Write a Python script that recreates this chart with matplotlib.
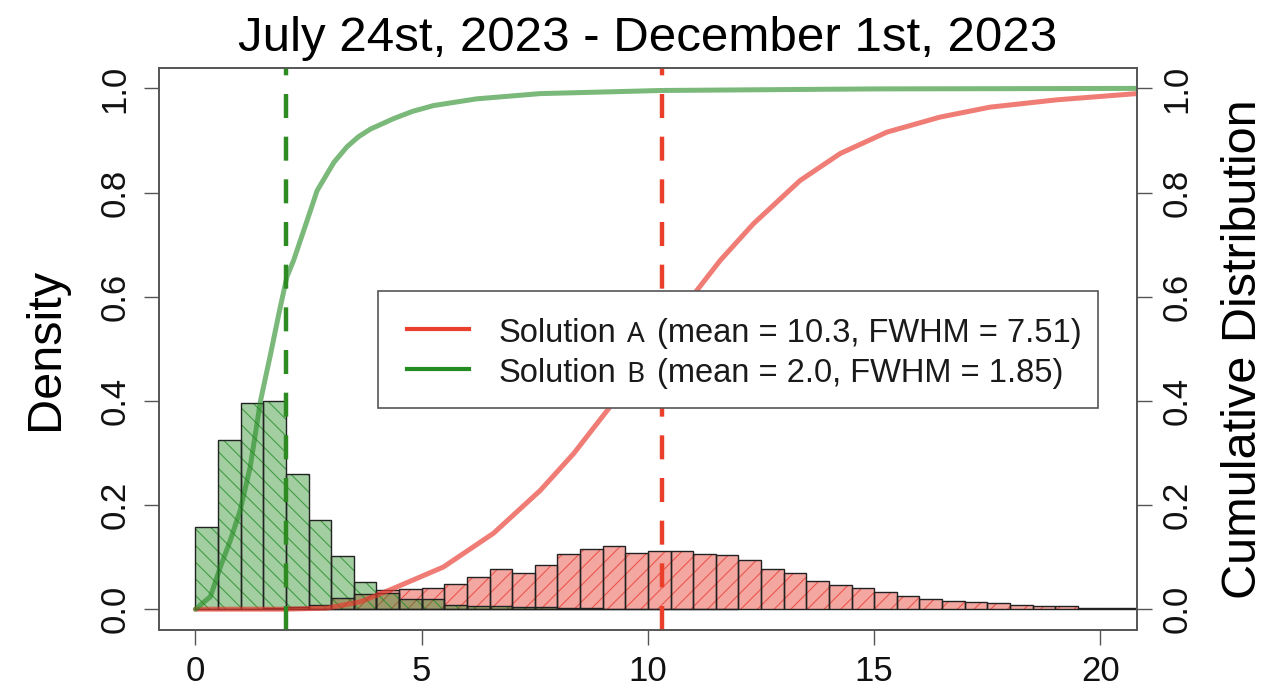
import matplotlib
matplotlib.use('Agg')
import matplotlib.pyplot as plt
import numpy as np
from matplotlib.colors import to_rgba
from matplotlib.patches import Rectangle
from matplotlib.lines import Line2D

plt.rcParams['font.family'] = ['Liberation Sans', 'DejaVu Sans']
plt.rcParams['hatch.linewidth'] = 0.8

# histogram densities, bins of 0.5 starting at 0
bin_width = 0.5
density_b = [0.158, 0.324, 0.395, 0.399, 0.260, 0.172, 0.103, 0.052, 0.032, 0.020,
             0.019, 0.008, 0.007, 0.006, 0.005, 0.004, 0.002, 0.002, 0.001, 0.001,
             0.001, 0.001, 0.0005, 0.0005]
density_a = [0.0, 0.0, 0.001, 0.002, 0.004, 0.008, 0.022, 0.030, 0.036, 0.038,
             0.041, 0.049, 0.061, 0.078, 0.070, 0.084, 0.105, 0.115, 0.121, 0.108,
             0.111, 0.111, 0.106, 0.104, 0.095, 0.078, 0.070, 0.054, 0.047, 0.040,
             0.033, 0.025, 0.019, 0.015, 0.013, 0.012, 0.008, 0.006, 0.006, 0.003,
             0.003, 0.002]

# cumulative distributions
cdf_a_x = [0, 2.0, 2.9, 3.64, 4.38, 5.48, 6.59, 7.62, 8.36, 9.13, 11.08, 11.6,
           12.33, 13.36, 14.25, 15.28, 16.46, 17.56, 19.03, 20.8]
cdf_a_y = [0, 0.0, 0.002, 0.014, 0.040, 0.081, 0.146, 0.228, 0.299, 0.385, 0.612,
           0.67, 0.740, 0.823, 0.875, 0.916, 0.945, 0.964, 0.978, 0.99]
cdf_b_x = [0, 0.33, 0.55, 0.77, 0.99, 1.21, 1.44, 1.66, 1.85, 2.02, 2.17, 2.47,
           2.69, 3.06, 3.35, 3.6, 3.87, 4.38, 4.8, 5.26, 6.22, 7.62, 10.3, 15.0, 20.8]
cdf_b_y = [0, 0.024, 0.081, 0.132, 0.19, 0.273, 0.401, 0.49, 0.57, 0.638, 0.67,
           0.747, 0.804, 0.858, 0.888, 0.907, 0.922, 0.942, 0.956, 0.967, 0.980,
           0.990, 0.996, 0.999, 1.0]

names = ['A', 'B']
means = [10.3, 2.0]
fwhm = [7.51, 1.85]

title = 'July 24st, 2023 - December 1st, 2023'
xticks = [0, 5, 10, 15, 20]
yticks = [0.0, 0.2, 0.4, 0.6, 0.8, 1.0]

red_fill = '#e83a30'
green_fill = '#228b22'
red_line = '#e8372c'
green_line = '#228b22'
red_dash = '#ea3f2a'
green_dash = '#2e8b22'
axis_col = '#555555'

fig = plt.figure(figsize=(12.71, 6.93), dpi=100)
ax = fig.add_axes([0.1253, 0.0909, 0.7690, 0.8116])

left_a = np.arange(len(density_a)) * bin_width
left_b = np.arange(len(density_b)) * bin_width

# filled + hatched bars, then black outlines on top
ax.bar(left_a, density_a, width=bin_width, align='edge',
       color=to_rgba(red_fill, 0.45), edgecolor=to_rgba(red_fill, 0.75),
       linewidth=0, hatch='//')
ax.bar(left_b, density_b, width=bin_width, align='edge',
       color=to_rgba(green_fill, 0.42), edgecolor=to_rgba(green_fill, 0.75),
       linewidth=0, hatch='\\\\')
ax.bar(left_a, density_a, width=bin_width, align='edge', fill=False,
       edgecolor='#222222', linewidth=1.0)
ax.bar(left_b, density_b, width=bin_width, align='edge', fill=False,
       edgecolor='#222222', linewidth=1.0)

ax.set_xlim(-0.8, 20.8)
ax.set_ylim(-0.04, 1.04)

ax2 = ax.twinx()
ax2.set_ylim(-0.04, 1.04)
ax2.plot(cdf_a_x, cdf_a_y, color=red_line, alpha=0.65, lw=3.6,
         solid_capstyle='round', solid_joinstyle='round')
ax2.plot(cdf_b_x, cdf_b_y, color=green_line, alpha=0.6, lw=3.6,
         solid_capstyle='round', solid_joinstyle='round')
ax2.axvline(means[0], color=red_dash, lw=3.2, dashes=(5.4, 4.2))
ax2.axvline(means[1], color=green_dash, lw=3.2, dashes=(5.4, 4.2))

# legend drawn by hand (the A / B letters use another font)
box = Rectangle((0.2241, 0.3942), 0.736, 0.2086, transform=ax2.transAxes,
                facecolor='white', edgecolor=axis_col, lw=1.2, zorder=5)
ax2.add_patch(box)
row_line_y = [0.5347, 0.4636]
row_text_y = [0.5126, 0.4415]
for i, col in enumerate([red_dash, green_line]):
    ax2.add_line(Line2D([0.2531, 0.3172], [row_line_y[i]] * 2, transform=ax2.transAxes,
                        color=col, lw=3, zorder=6))
    ax2.text(0.3468, row_text_y[i], 'Solution', transform=ax2.transAxes,
             fontsize=23.5, va='baseline', color='#1a1a1a', zorder=7)
    ax2.text(0.4782, row_text_y[i], names[i], transform=ax2.transAxes,
             fontsize=20, family='Noto Sans', va='baseline', color='#1a1a1a', zorder=7)
    ax2.text(0.5088, row_text_y[i], f'(mean = {means[i]:.1f}, FWHM = {fwhm[i]:.2f})',
             transform=ax2.transAxes, fontsize=23.5, va='baseline', color='#1a1a1a', zorder=7)

ylabels = [f'{v:.1f}' for v in yticks]
ax.set_xticks(xticks, [str(v) for v in xticks])
ax.set_yticks(yticks, ylabels, rotation=90, va='center')
ax2.set_yticks(yticks, ylabels, rotation=90, va='center')

for a in (ax, ax2):
    a.tick_params(direction='out', length=11, width=1, color=axis_col,
                  labelsize=25, labelcolor='#111111')
    for s in a.spines.values():
        s.set_color(axis_col)
        s.set_linewidth(1.2)
ax.tick_params(axis='x', pad=7)
ax.tick_params(axis='y', pad=9)
ax2.tick_params(axis='y', pad=6)

ax.set_ylabel('Density', fontsize=35, labelpad=22)
ax2.set_ylabel('Cumulative Distribution', fontsize=35, labelpad=20)
ax.set_title(title, fontsize=35.5, pad=12)

fig.savefig('out.png', dpi=100)
